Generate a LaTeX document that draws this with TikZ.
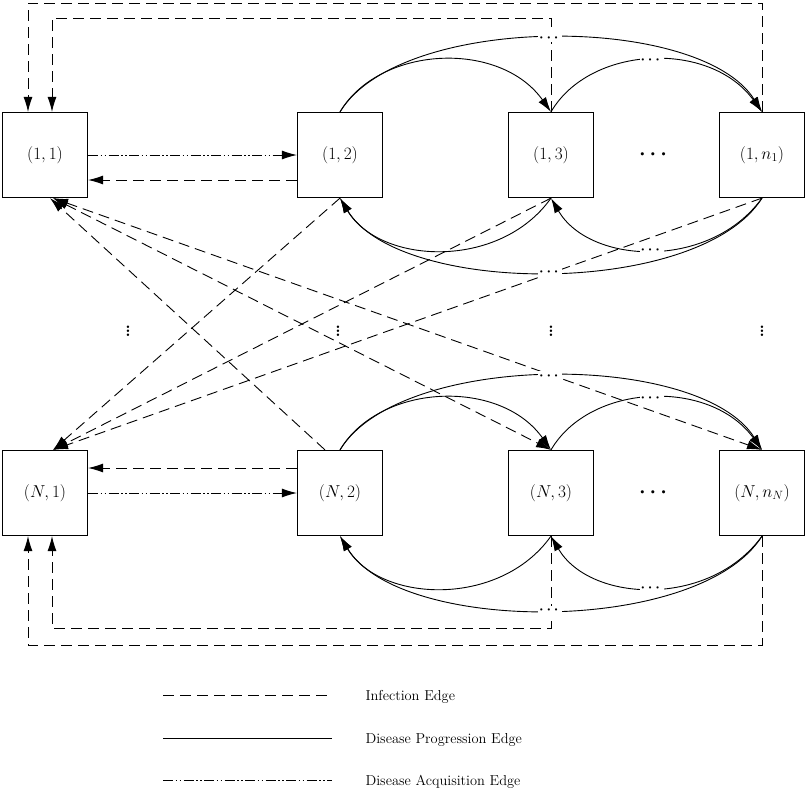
\documentclass[tikz,border=0pt]{standalone}
\usepackage{amsmath,amssymb,bm}
\usetikzlibrary{arrows.meta}
\begin{document}
\begin{tikzpicture}[x=1pt,y=-1pt,
  box/.style={draw,line width=1.2pt,minimum size=85pt,inner sep=0pt,font=\fontsize{17}{20}\selectfont},
  tip/.style={-{Latex[length=15pt,width=9pt]}},
  inf/.style={tip,line width=0.9pt,dash pattern=on 11pt off 6pt},
  acq/.style={tip,line width=0.9pt,dash pattern=on 10pt off 2.5pt on 1.5pt off 2.5pt on 1.5pt off 2.5pt},
  prog/.style={tip,line width=0.9pt},
  gap/.style={fill=white,inner sep=1pt,font=\Large}]
\useasboundingbox (0,0) rectangle (807,796);
\foreach \r/\y/\l in {1/155/1, N/493/N}{
  \node[box] (a\r1) at (45,\y) {$(\l,1)$};
  \node[box] (a\r2) at (340,\y) {$(\l,2)$};
  \node[box] (a\r3) at (551,\y) {$(\l,3)$};
  \node (d\r) at (655,\y) {\huge$\bm{\cdots}$};
}
\node[box] (a1n) at (762,155) {$(1,n_1)$};
\node[box] (aNn) at (762,493) {$(N,n_N)$};
\foreach \x [count=\i] in {128,338,551,762}{\node[inner sep=0pt] (v\i) at (\x,328) {\LARGE$\bm{\vdots}$};}
% acquisition and local infection
\draw[acq] (a11.east) -- (a12.west);
\draw[inf] ([yshift=-25pt]a12.west) -- ([yshift=-25pt]a11.east);
\draw[acq] (aN1.east) -- (aN2.west);
\draw[inf] ([yshift=25pt]aN2.west) -- ([yshift=25pt]aN1.east);
% loops
\draw[inf] (a1n.north) -- (762,3) -| ([xshift=-17pt]a11.north);
\draw[inf] (a13.north) -- (551,18) -| ([xshift=7pt]a11.north);
\draw[inf] (aN3.south) -- (551,628) -| ([xshift=7pt]aN1.south);
\draw[inf] (aNn.south) -- (762,645) -| ([xshift=-17pt]aN1.south);
% cross infection
\foreach \s in {a12,a13,a1n}{\draw[inf] (\s.south) -- ([xshift=8pt]aN1.north);}
\draw[inf] ([xshift=-15pt]aN2.north) -- ([xshift=5pt]a11.south);
\draw[inf,{Latex[length=15pt,width=9pt]}-{Latex[length=15pt,width=9pt]}] ([xshift=8pt]a11.south) -- (aN3.north);
\draw[inf,{Latex[length=15pt,width=9pt]}-{Latex[length=15pt,width=9pt]}] ([xshift=8pt]a11.south) -- (aNn.north);
% progression
\foreach \r/\o in {1/0,N/338}{
  \draw[prog] (a\r2.north) .. controls (380,45+\o) and (500,40+\o) .. (a\r3.north);
  \draw[prog] (a\r2.north) .. controls (400,13+\o) and (700,13+\o) .. node[gap,pos=0.5]{$\bm{\cdots}$} (a\r n.north);
  \draw[prog] (a\r3.north) .. controls (590,45+\o) and (710,40+\o) .. node[gap,pos=0.5]{$\bm{\cdots}$} (a\r n.north);
  \draw[prog] (a\r3.south) .. controls (500,270+\o) and (380,265+\o) .. (a\r2.south);
  \draw[prog] (a\r n.south) .. controls (700,297+\o) and (400,297+\o) .. node[gap,pos=0.5]{$\bm{\cdots}$} (a\r2.south);
  \draw[prog] (a\r n.south) .. controls (710,270+\o) and (590,265+\o) .. node[gap,pos=0.5]{$\bm{\cdots}$} (a\r3.south);
}
% legend
\coordinate (l1a) at (163,695); \coordinate (l1b) at (332,695);
\coordinate (l2a) at (163,738); \coordinate (l2b) at (332,738);
\coordinate (l3a) at (163,780); \coordinate (l3b) at (332,780);
\draw[line width=0.9pt,dash pattern=on 11pt off 6pt] (l1a) -- (l1b);
\draw[line width=0.9pt] (l2a) -- (l2b);
\draw[line width=0.9pt,dash pattern=on 10pt off 2.5pt on 1.5pt off 2.5pt on 1.5pt off 2.5pt] (l3a) -- (l3b);
\node[anchor=west,font=\Large] (t1) at (362,697) {Infection Edge};
\node[anchor=west,font=\Large] (t2) at (362,740) {Disease Progression Edge};
\node[anchor=west,font=\Large] (t3) at (362,782) {Disease Acquisition Edge};
\end{tikzpicture}
\end{document}
